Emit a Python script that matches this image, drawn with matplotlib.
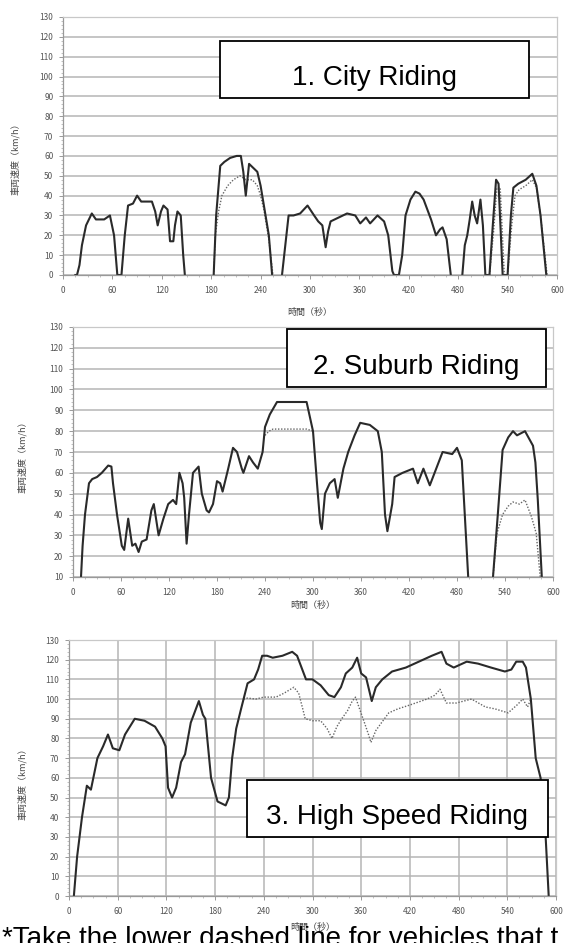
import numpy as np
import matplotlib
matplotlib.use('Agg')
import matplotlib.pyplot as plt
from matplotlib.patches import Rectangle
from matplotlib.ticker import MultipleLocator

plt.rcParams['font.family'] = ['Noto Sans CJK JP', 'DejaVu Sans']

# ---- data ----
nan = np.nan

# 1. city riding
city_t = [15, 17, 20, 23, 28, 35, 40, 50, 57, 62, 66, 71, 75, 79, 85, 90, 95, 108, 112, 115,
          119, 122, 127, 130, 134, 136, 139, 143, 146, 148, 160,
          183, 186, 191, 196, 203, 211, 216, 219, 222, 226, 231, 236, 240, 244, 250, 254, 260,
          266, 270, 274, 280, 288, 297, 305, 310, 315, 319, 322, 325, 335, 345, 355, 361, 368,
          373, 382, 390, 395, 400, 402, 408, 412, 416, 422, 428, 433, 438, 447, 453, 458, 461,
          466, 471, 477,
          485, 488, 491, 494, 497, 500, 503, 507, 510, 513, 518, 522, 526, 529, 534, 540, 544,
          547, 553, 562, 570, 575, 580, 587]
city_v = [0, 0, 5, 15, 25, 31, 28, 28, 30, 20, 0, 0, 20, 35, 36, 40, 37, 37, 32, 25,
          32, 35, 33, 17, 17, 25, 32, 30, 10, 0, nan,
          0, 30, 55, 57, 59, 60, 60, 52, 40, 56, 54, 52, 45, 35, 20, 0, nan,
          0, 15, 30, 30, 31, 35, 30, 27, 25, 14, 22, 27, 29, 31, 30, 26, 29,
          26, 30, 27, 20, 2, 0, 0, 10, 30, 38, 42, 41, 38, 28, 20, 23, 24,
          18, 0, nan,
          0, 15, 20, 28, 37, 30, 26, 38, 25, 0, 0, 25, 48, 46, 0, 0, 30,
          44, 46, 48, 51, 45, 30, 0]
city_lim_t = [183, 185, 189, 193, 200, 207, 215, 222, 230, 236, 240, 244, 250, 255, 260,
              518, 523, 527, 531, 536, 538,
              540, 545, 549, 554, 562, 570, 575, 580, 588]
city_lim_v = [0, 20, 32, 40, 45, 48, 50, 48, 48, 45, 40, 33, 18, 0, nan,
              0, 22, 44, 44, 0, nan,
              0, 25, 40, 43, 45, 48, 44, 30, 0]

# 2. suburb riding
sub_t = [10, 12, 15, 20, 24, 30, 36, 44, 48, 50, 55, 61, 64, 69, 74, 78, 82, 86, 92, 98,
         101, 107, 113, 119, 125, 129, 133, 137, 139, 142, 145, 150, 157, 161, 167, 170, 175,
         180, 184, 187, 194, 200, 205, 211, 213, 220, 225, 231, 237, 240, 246, 255, 292, 300,
         305, 309, 311, 315, 321, 327, 331, 338, 344, 352, 359, 371, 381, 386, 390, 393, 399,
         402, 412, 425, 431, 438, 446, 452, 462, 474, 480, 486, 494, 510,
         525, 531, 537, 544, 550, 555, 560, 565, 575, 578, 581, 586]
sub_v = [10, 25, 40, 55, 57, 58, 60, 63.5, 63, 55, 40, 25, 23, 38, 25, 26, 22, 27, 28, 42,
         45, 30, 38, 45, 47, 45, 60, 55, 48, 26, 40, 60, 63, 50, 42, 41, 45,
         56, 55, 51, 62, 72, 70, 62, 60, 68, 65, 62, 70, 82, 88, 94, 94, 80,
         55, 36, 33, 50, 55, 57, 48, 62, 70, 78, 84, 83, 80, 70, 40, 32, 45,
         58, 60, 62, 55, 62, 54, 60, 70, 69, 72, 66, 10, nan,
         10, 40, 71, 77, 80, 78, 79, 80, 73, 65, 47, 10]
sub_lim_t = [240, 245, 250, 260, 280, 292, 300, 310,
             525, 530, 537, 544, 550, 558, 565, 573, 579, 584]
sub_lim_v = [78, 80, 81, 81, 81, 81, 80, nan,
             10, 31, 40, 44, 46, 45, 47, 39, 31, 10]

# 3. high speed riding
hs_t = [6, 10, 16, 22, 27, 35, 42, 48, 54, 62, 69, 81, 93, 106, 115, 119, 122, 127, 132, 138,
        143, 150, 160, 165, 168, 175, 183, 193, 197, 201, 206, 212, 220, 228, 233, 238, 244,
        251, 263, 275, 281, 292, 300, 310, 320, 327, 335, 341, 349, 355, 360, 366, 373, 378,
        386, 398, 415, 431, 447, 459, 465, 474, 490, 504, 520, 537, 545, 551, 559, 563, 569,
        575, 581, 586, 591]
hs_v = [0, 20, 40, 56, 54, 70, 76, 82, 75, 74, 82, 90, 89, 86, 80, 76, 55, 50, 55, 68,
        72, 88, 99, 92, 90, 60, 48, 46, 50, 70, 85, 95, 108, 110, 115, 122, 122,
        121, 122, 124, 122, 110, 110, 107, 102, 101, 106, 113, 116, 121, 113, 111, 99, 106,
        110, 114, 116, 119, 122, 124, 118, 116, 119, 118, 116, 114, 115, 119, 119, 116, 100,
        70, 60, 40, 0]
hs_lim_t = [215, 220, 230, 240, 255, 265, 277, 283, 288, 291, 300, 310, 318, 324, 330, 336,
            343, 349, 353, 358, 364, 369, 372, 378, 385, 394, 405, 420, 441, 451, 457, 465,
            477, 496, 513, 525, 541, 552, 559, 565, 569]
hs_lim_v = [100, 100.5, 100, 101, 101, 103, 106, 103, 95, 90, 89, 89, 85, 80, 86, 90,
            94, 99, 101, 95, 88, 82, 78, 84, 88, 93, 95, 97, 100, 102, 105, 98,
            98, 100, 96, 95, 93, 97, 100, 96, 100]

titles = ['1. City Riding', '2. Suburb Riding', '3. High Speed Riding']
x_ticks = [0, 60, 120, 180, 240, 300, 360, 420, 480, 540, 600]
note = '*Take the lower dashed line for vehicles that t'

# ---- layout in pixels of the 566x943 picture ----
W, H = 566, 943
fig = plt.figure(figsize=(W / 100, H / 100), dpi=100)
fig.patch.set_facecolor('white')


def box(l, t, r, b):
    return [l / W, 1 - b / H, (r - l) / W, (b - t) / H]


panels = [
    dict(rect=(63, 17, 557, 275), ylim=(0, 130), t=city_t, v=city_v, lt=city_lim_t, lv=city_lim_v,
         vgrid=False, ylab=(-0.087, 0.457), xlab=-0.128, tbox=(220, 41, 529, 98)),
    dict(rect=(73, 327, 553, 577), ylim=(10, 130), t=sub_t, v=sub_v, lt=sub_lim_t, lv=sub_lim_v,
         vgrid=False, ylab=(-0.096, 0.49), xlab=-0.096, tbox=(287, 329, 546, 387)),
    dict(rect=(69, 640, 556, 896), ylim=(0, 130), t=hs_t, v=hs_v, lt=hs_lim_t, lv=hs_lim_v,
         vgrid=True, ylab=(-0.086, 0.445), xlab=-0.105, tbox=(247, 780, 548, 837)),
]

for i, p in enumerate(panels):
    ax = fig.add_axes(box(*p['rect']))
    ax.set_xlim(0, 600)
    ax.set_ylim(*p['ylim'])
    ax.yaxis.set_major_locator(MultipleLocator(10))
    ax.yaxis.set_minor_locator(MultipleLocator(2))
    ax.set_xticks(x_ticks)
    ax.xaxis.set_minor_locator(MultipleLocator(15))
    ax.grid(axis='y', color='#b5b5b5', lw=1.1)
    if p['vgrid']:
        ax.grid(axis='x', color='#b5b5b5', lw=1.1)
    ax.set_axisbelow(True)
    for s in ax.spines.values():
        s.set_color('#c8c8c8')
        s.set_linewidth(0.9)
    ax.spines['left'].set_color('#999999')
    ax.spines['bottom'].set_color('#999999')
    ax.tick_params(which='major', length=3, width=0.7, color='#999999',
                   labelsize=6, labelcolor='#555555', pad=4)
    ax.tick_params(which='minor', length=1.5, width=0.5, color='#aaaaaa')
    ax.tick_params(axis='x', pad=5)

    ax.plot(p['lt'], p['lv'], color='#666666', lw=1.0, ls=(0, (1, 1.2)))
    ax.plot(p['t'], p['v'], color='#2a2a2a', lw=1.5)

    ax.set_ylabel('車両速度（km/h）', fontsize=6.5, color='#444444')
    ax.yaxis.set_label_coords(*p['ylab'])
    ax.set_xlabel('時間（秒）', fontsize=6.5, color='#444444')
    ax.xaxis.set_label_coords(0.5, p['xlab'])

    l, t, r, b = p['tbox']
    fig.patches.append(Rectangle((l / W, 1 - b / H), (r - l) / W, (b - t) / H,
                                 transform=fig.transFigure, facecolor='white',
                                 edgecolor='black', lw=1.3, zorder=5))
    fig.text((l + r) / 2 / W, 1 - (b - 13) / H, titles[i], ha='center', va='baseline',
             fontsize=20, family='Liberation Sans', color='black', zorder=6)

fig.text(2 / W, 1 - 946 / H, note, ha='left', va='baseline', fontsize=20,
         family='Liberation Sans', color='black')

fig.savefig('out.png', dpi=100)
